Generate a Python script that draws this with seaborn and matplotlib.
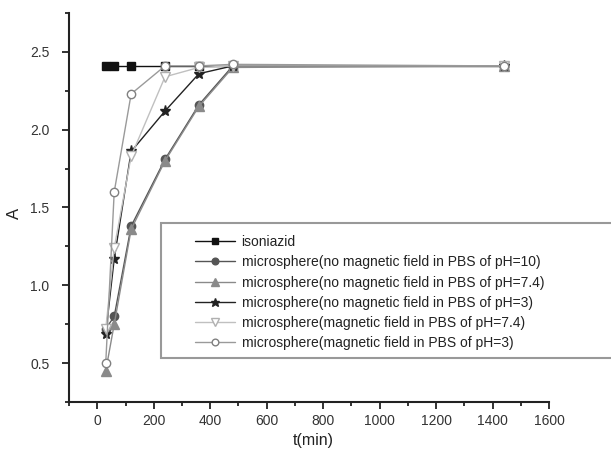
import matplotlib
matplotlib.use("Agg")
import matplotlib.pyplot as plt
import matplotlib.patches as mpatches
import seaborn as sns
import pandas as pd
from matplotlib.ticker import MultipleLocator

sns.set_style("ticks")
plt.rcParams['font.family'] = ['Liberation Sans', 'DejaVu Sans']

time_min = [30, 60, 120, 240, 360, 480, 1440]
isoniazid = [2.41, 2.41, 2.41, 2.41, 2.41, 2.41, 2.41]
ms_nofield_ph10 = [0.72, 0.80, 1.38, 1.81, 2.16, 2.41, 2.41]
ms_nofield_ph74 = [0.45, 0.75, 1.36, 1.80, 2.15, 2.40, 2.41]
ms_nofield_ph3 = [0.69, 1.17, 1.86, 2.12, 2.36, 2.41, 2.41]
ms_field_ph74 = [0.72, 1.24, 1.83, 2.34, 2.40, 2.41, 2.41]
ms_field_ph3 = [0.50, 1.60, 2.23, 2.41, 2.41, 2.42, 2.41]

labels = ["isoniazid",
          "microsphere(no magnetic field in PBS of pH=10)",
          "microsphere(no magnetic field in PBS of pH=7.4)",
          "microsphere(no magnetic field in PBS of pH=3)",
          "microsphere(magnetic field in PBS of pH=7.4)",
          "microsphere(magnetic field in PBS of pH=3)"]
series = [isoniazid, ms_nofield_ph10, ms_nofield_ph74, ms_nofield_ph3,
          ms_field_ph74, ms_field_ph3]

styles = [
    dict(color="#111111", marker="s", mfc="#111111", mec="#111111", ms=6),
    dict(color="#555555", marker="o", mfc="#555555", mec="#555555", ms=6),
    dict(color="#8a8a8a", marker="^", mfc="#8a8a8a", mec="#8a8a8a", ms=7),
    dict(color="#222222", marker="*", mfc="#222222", mec="#222222", ms=8),
    dict(color="#c0c0c0", marker="v", mfc="white", mec="#b0b0b0", ms=7),
    dict(color="#9a9a9a", marker="o", mfc="white", mec="#808080", ms=6),
]

W, H = 611, 458
fig = plt.figure(figsize=(W / 100, H / 100), dpi=100)
ax = fig.add_axes([0.113, 0.1223, 0.7855, 0.8493])

for lab, vals, st in zip(labels, series, styles):
    df = pd.DataFrame({"t": time_min, "A": vals})
    sns.lineplot(data=df, x="t", y="A", ax=ax, label=lab, color=st["color"],
                 marker=st["marker"], markerfacecolor=st["mfc"],
                 markeredgecolor=st["mec"], markersize=st["ms"],
                 markeredgewidth=1.0, linewidth=1.0)

ax.set_xlim(-100, 1600)
ax.set_ylim(0.25, 2.75)
ax.xaxis.set_minor_locator(MultipleLocator(100))
ax.yaxis.set_minor_locator(MultipleLocator(0.25))
ax.set_xticks([0, 200, 400, 600, 800, 1000, 1200, 1400, 1600])
ax.set_yticks([0.5, 1.0, 1.5, 2.0, 2.5])
ax.set_yticklabels(["0.5", "1.0", "1.5", "2.0", "2.5"])
ax.tick_params(axis="both", which="major", direction="out", length=5, width=1.3,
               labelsize=10, colors="#222222", labelcolor="#333333")
ax.tick_params(axis="y", which="major", pad=9)
ax.tick_params(axis="both", which="minor", direction="out", length=3, width=1.3,
               colors="#222222")
sns.despine(ax=ax)
for s in ["left", "bottom"]:
    ax.spines[s].set_linewidth(1.5)
    ax.spines[s].set_color("#222222")

ax.set_xlabel("t(min)", fontsize=11.5, color="#222222")
ax.set_ylabel("A", fontsize=12, color="#222222")
ax.xaxis.set_label_coords(0.508, -0.08)
ax.yaxis.set_label_coords(-0.098, 0.486)

# legend frame (extends past the right edge like the reference)
frame = mpatches.Rectangle((161 / W, 1 - 358 / H), 470 / W, 135 / H,
                           transform=fig.transFigure, facecolor="white",
                           edgecolor="#999999", linewidth=1.5, zorder=5,
                           clip_on=False)
ax.add_patch(frame)

leg = ax.legend(loc="upper left", bbox_to_anchor=(195 / W, 1 - 235 / H),
                bbox_transform=fig.transFigure, frameon=False,
                fontsize=10, handlelength=2.9, labelspacing=0.45,
                borderpad=0.0, borderaxespad=0.0, handletextpad=0.45,
                markerscale=0.8)
leg.set_zorder(10)
for t in leg.get_texts():
    t.set_color("#222222")

fig.savefig("out.png", dpi=100)
